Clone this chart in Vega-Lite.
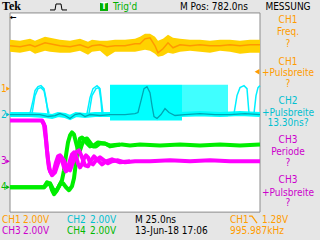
{
 "$schema": "https://vega.github.io/schema/vega-lite/v6.json",
 "width": 320, "height": 240,
 "autosize": {"type": "fit", "contains": "padding"},
 "padding": 0,
 "background": "#e6e6e6",
 "config": {"view": {"stroke": null}},
 "datasets": {
  "frame": [{"t": 657, "t2": 907, "v": -8, "v2": 8}],
  "vgrid": [{"t": 682}, {"t": 707}, {"t": 732}, {"t": 757}, {"t": 782}, {"t": 807}, {"t": 832}, {"t": 857}, {"t": 882}],
  "hgrid": [{"v": -6}, {"v": -4}, {"v": -2}, {"v": 0}, {"v": 2}, {"v": 4}, {"v": 6}],
  "vborder": [{"t": 658.5}, {"t": 905.5}],
  "hborder": [{"v": 7.88}, {"v": -7.88}],
  "dense1": [{"t": 757, "t2": 829, "v": 2.24, "v2": -0.64}],
  "dense2": [{"t": 829, "t2": 875, "v": 2.24, "v2": -0.32}],
  "ch2base": [
   {"t": 657, "v": -0.16}, {"t": 677, "v": -0.16}, {"t": 692, "v": -0.24}, {"t": 699, "v": -0.32}, {"t": 705, "v": -0.16}, {"t": 712, "v": -0.24}, {"t": 717, "v": -0.40}, {"t": 723, "v": -0.16}, {"t": 732, "v": -0.24}, {"t": 742, "v": -0.16}, {"t": 752, "v": -0.16}, {"t": 757, "v": -0.16}, {"t": 767, "v": -0.08}, {"t": 787, "v": -0.08}, {"t": 797, "v": -0.24}, {"t": 804, "v": -0.40}, {"t": 812, "v": -0.08}, {"t": 827, "v": -0.16}, {"t": 847, "v": -0.08}, {"t": 867, "v": -0.16}, {"t": 887, "v": -0.08}, {"t": 907, "v": -0.16}
  ],
  "ch2pulses": [
   {"s": "a", "t": 677, "v": -0.08}, {"s": "a", "t": 680, "v": 0.96}, {"s": "a", "t": 682, "v": 1.76}, {"s": "a", "t": 685, "v": 2.08}, {"s": "a", "t": 688, "v": 2.16}, {"s": "a", "t": 691, "v": 1.92}, {"s": "a", "t": 693, "v": 1.12}, {"s": "a", "t": 695, "v": -0.08},
   {"s": "b", "t": 679, "v": -0.08}, {"s": "b", "t": 682, "v": 1.36}, {"s": "b", "t": 685, "v": 1.92}, {"s": "b", "t": 688, "v": 2.00}, {"s": "b", "t": 691, "v": 1.76}, {"s": "b", "t": 694, "v": 0.56}, {"s": "b", "t": 696, "v": -0.08},
   {"s": "c", "t": 734, "v": -0.08}, {"s": "c", "t": 737, "v": 1.20}, {"s": "c", "t": 740, "v": 1.92}, {"s": "c", "t": 744, "v": 2.16}, {"s": "c", "t": 747, "v": 1.92}, {"s": "c", "t": 749, "v": 0.56}, {"s": "c", "t": 750, "v": -0.08},
   {"s": "d", "t": 736, "v": -0.08}, {"s": "d", "t": 739, "v": 1.36}, {"s": "d", "t": 743, "v": 1.92}, {"s": "d", "t": 746, "v": 2.00}, {"s": "d", "t": 748, "v": 0.96}, {"s": "d", "t": 749, "v": -0.08},
   {"s": "e", "t": 881, "v": -0.08}, {"s": "e", "t": 884, "v": 1.36}, {"s": "e", "t": 887, "v": 2.00}, {"s": "e", "t": 891, "v": 2.16}, {"s": "e", "t": 894, "v": 1.92}, {"s": "e", "t": 896, "v": -0.08},
   {"s": "f", "t": 901, "v": -0.08}, {"s": "f", "t": 903, "v": 1.36}, {"s": "f", "t": 905, "v": 2.00}, {"s": "f", "t": 907, "v": 2.16}
  ],
  "ch2dark": [
   {"t": 657, "v": -0.16}, {"t": 687, "v": -0.16}, {"t": 695, "v": -0.32}, {"t": 702, "v": -0.24}, {"t": 707, "v": -0.08}, {"t": 712, "v": -0.24}, {"t": 717, "v": -0.48}, {"t": 722, "v": -0.16}, {"t": 727, "v": -0.08}, {"t": 732, "v": -0.32}, {"t": 737, "v": -0.16}, {"t": 747, "v": -0.24}, {"t": 757, "v": -0.16}, {"t": 772, "v": -0.16}, {"t": 782, "v": -0.08}, {"t": 785, "v": 0}, {"t": 788, "v": 0.96}, {"t": 791, "v": 1.92}, {"t": 794, "v": 2.08}, {"t": 797, "v": 1.60}, {"t": 799, "v": 0.56}, {"t": 801, "v": -0.32}, {"t": 804, "v": -0.48}, {"t": 808, "v": -0.16}, {"t": 812, "v": 0.32}, {"t": 816, "v": 0}, {"t": 822, "v": -0.24}, {"t": 832, "v": -0.16}, {"t": 847, "v": -0.08}, {"t": 862, "v": -0.16}, {"t": 877, "v": -0.16}, {"t": 892, "v": -0.08}, {"t": 907, "v": -0.16}
  ],
  "ch1": [
   {"t": 657, "vt": 5.84, "v": 5.36, "vb": 4.88}, {"t": 667, "vt": 5.76, "v": 5.28, "vb": 4.80}, {"t": 677, "vt": 5.92, "v": 5.44, "vb": 4.96}, {"t": 682, "vt": 5.76, "v": 5.28, "vb": 4.72}, {"t": 692, "vt": 6.08, "v": 5.60, "vb": 4.96}, {"t": 697, "vt": 6.00, "v": 5.52, "vb": 4.88}, {"t": 707, "vt": 5.84, "v": 5.36, "vb": 4.80}, {"t": 717, "vt": 5.76, "v": 5.28, "vb": 4.80}, {"t": 727, "vt": 5.92, "v": 5.44, "vb": 4.96}, {"t": 735, "vt": 5.68, "v": 5.20, "vb": 4.64}, {"t": 739, "vt": 5.84, "v": 5.36, "vb": 4.88}, {"t": 747, "vt": 5.76, "v": 5.44, "vb": 4.96}, {"t": 754, "vt": 5.76, "v": 5.28, "vb": 4.48}, {"t": 762, "vt": 5.84, "v": 5.36, "vb": 4.88}, {"t": 772, "vt": 5.84, "v": 5.36, "vb": 4.88}, {"t": 782, "vt": 5.92, "v": 5.52, "vb": 4.88}, {"t": 787, "vt": 6.08, "v": 5.52, "vb": 4.96}, {"t": 792, "vt": 6.32, "v": 5.92, "vb": 5.04}, {"t": 797, "vt": 6.32, "v": 6.00, "vb": 4.96}, {"t": 802, "vt": 6.08, "v": 5.36, "vb": 4.72}, {"t": 805, "vt": 5.76, "v": 4.80, "vb": 4.48}, {"t": 810, "vt": 5.92, "v": 5.12, "vb": 4.56}, {"t": 815, "vt": 6.24, "v": 5.60, "vb": 4.80}, {"t": 820, "vt": 6.00, "v": 5.20, "vb": 4.72}, {"t": 827, "vt": 5.92, "v": 5.44, "vb": 4.88}, {"t": 837, "vt": 5.84, "v": 5.36, "vb": 4.96}, {"t": 847, "vt": 5.84, "v": 5.44, "vb": 4.88}, {"t": 857, "vt": 5.76, "v": 5.36, "vb": 4.80}, {"t": 867, "vt": 5.84, "v": 5.36, "vb": 4.96}, {"t": 877, "vt": 5.84, "v": 5.44, "vb": 4.88}, {"t": 887, "vt": 5.76, "v": 5.36, "vb": 4.72}, {"t": 897, "vt": 5.84, "v": 5.44, "vb": 4.80}, {"t": 907, "vt": 5.84, "v": 5.44, "vb": 4.80}
  ],
  "ch4": [
   {"s": "a", "t": 657, "v": -6.00}, {"s": "a", "t": 691, "v": -6.00}, {"s": "a", "t": 694, "v": -5.76}, {"s": "a", "t": 697, "v": -5.68}, {"s": "a", "t": 700, "v": -6.16}, {"s": "a", "t": 703, "v": -6.32}, {"s": "a", "t": 706, "v": -5.92}, {"s": "a", "t": 709, "v": -5.44}, {"s": "a", "t": 711, "v": -4.64}, {"s": "a", "t": 713, "v": -3.44}, {"s": "a", "t": 715, "v": -2.40}, {"s": "a", "t": 717, "v": -1.84}, {"s": "a", "t": 719, "v": -1.60}, {"s": "a", "t": 721, "v": -1.76}, {"s": "a", "t": 723, "v": -2.40}, {"s": "a", "t": 725, "v": -3.04}, {"s": "a", "t": 727, "v": -3.04}, {"s": "a", "t": 729, "v": -2.56}, {"s": "a", "t": 731, "v": -2.16}, {"s": "a", "t": 734, "v": -2.08}, {"s": "a", "t": 737, "v": -2.40}, {"s": "a", "t": 740, "v": -2.72}, {"s": "a", "t": 743, "v": -2.72}, {"s": "a", "t": 747, "v": -2.48}, {"s": "a", "t": 752, "v": -2.48}, {"s": "a", "t": 757, "v": -2.72}, {"s": "a", "t": 763, "v": -2.64}, {"s": "a", "t": 769, "v": -2.56}, {"s": "a", "t": 777, "v": -2.64}, {"s": "a", "t": 787, "v": -2.56}, {"s": "a", "t": 807, "v": -2.64}, {"s": "a", "t": 827, "v": -2.56}, {"s": "a", "t": 847, "v": -2.64}, {"s": "a", "t": 867, "v": -2.56}, {"s": "a", "t": 887, "v": -2.64}, {"s": "a", "t": 907, "v": -2.56},
   {"s": "b", "t": 657, "v": -6.00}, {"s": "b", "t": 691, "v": -6.00}, {"s": "b", "t": 694, "v": -5.60}, {"s": "b", "t": 697, "v": -5.76}, {"s": "b", "t": 699, "v": -6.24}, {"s": "b", "t": 701, "v": -6.56}, {"s": "b", "t": 704, "v": -6.24}, {"s": "b", "t": 707, "v": -5.76}, {"s": "b", "t": 710, "v": -5.68}, {"s": "b", "t": 713, "v": -6.00}, {"s": "b", "t": 716, "v": -6.24}, {"s": "b", "t": 719, "v": -5.92}, {"s": "b", "t": 721, "v": -5.28}, {"s": "b", "t": 723, "v": -4.00}, {"s": "b", "t": 725, "v": -2.72}, {"s": "b", "t": 727, "v": -2.08}, {"s": "b", "t": 729, "v": -2.00}, {"s": "b", "t": 731, "v": -2.16}, {"s": "b", "t": 734, "v": -2.48}, {"s": "b", "t": 737, "v": -2.72}, {"s": "b", "t": 741, "v": -2.64}, {"s": "b", "t": 745, "v": -2.40}, {"s": "b", "t": 751, "v": -2.48}, {"s": "b", "t": 757, "v": -2.64}, {"s": "b", "t": 767, "v": -2.56}
  ],
  "ch3": [
   {"s": "a", "t": 657, "v": -0.64}, {"s": "a", "t": 689, "v": -0.64}, {"s": "a", "t": 691, "v": -0.96}, {"s": "a", "t": 693, "v": -2.24}, {"s": "a", "t": 695, "v": -3.84}, {"s": "a", "t": 697, "v": -4.72}, {"s": "a", "t": 699, "v": -4.96}, {"s": "a", "t": 701, "v": -4.64}, {"s": "a", "t": 703, "v": -4.00}, {"s": "a", "t": 705, "v": -3.52}, {"s": "a", "t": 707, "v": -3.44}, {"s": "a", "t": 709, "v": -3.84}, {"s": "a", "t": 711, "v": -4.40}, {"s": "a", "t": 713, "v": -4.72}, {"s": "a", "t": 715, "v": -4.48}, {"s": "a", "t": 717, "v": -3.84}, {"s": "a", "t": 719, "v": -3.36}, {"s": "a", "t": 721, "v": -3.20}, {"s": "a", "t": 723, "v": -3.52}, {"s": "a", "t": 725, "v": -4.08}, {"s": "a", "t": 727, "v": -4.40}, {"s": "a", "t": 729, "v": -4.16}, {"s": "a", "t": 731, "v": -3.68}, {"s": "a", "t": 733, "v": -3.44}, {"s": "a", "t": 735, "v": -3.60}, {"s": "a", "t": 737, "v": -4.00}, {"s": "a", "t": 740, "v": -4.16}, {"s": "a", "t": 743, "v": -3.84}, {"s": "a", "t": 747, "v": -3.60}, {"s": "a", "t": 751, "v": -3.84}, {"s": "a", "t": 755, "v": -4.08}, {"s": "a", "t": 759, "v": -3.92}, {"s": "a", "t": 765, "v": -3.84}, {"s": "a", "t": 772, "v": -4.00}, {"s": "a", "t": 782, "v": -3.92}, {"s": "a", "t": 797, "v": -3.92}, {"s": "a", "t": 817, "v": -3.84}, {"s": "a", "t": 837, "v": -3.92}, {"s": "a", "t": 857, "v": -3.84}, {"s": "a", "t": 877, "v": -3.92}, {"s": "a", "t": 907, "v": -3.92},
   {"s": "b", "t": 689, "v": -0.64}, {"s": "b", "t": 692, "v": -1.12}, {"s": "b", "t": 694, "v": -3.04}, {"s": "b", "t": 696, "v": -4.48}, {"s": "b", "t": 699, "v": -5.04}, {"s": "b", "t": 702, "v": -4.80}, {"s": "b", "t": 705, "v": -4.08}, {"s": "b", "t": 708, "v": -3.52}, {"s": "b", "t": 711, "v": -3.84}, {"s": "b", "t": 714, "v": -4.48}, {"s": "b", "t": 717, "v": -4.64}, {"s": "b", "t": 720, "v": -4.00}, {"s": "b", "t": 723, "v": -3.20}, {"s": "b", "t": 726, "v": -3.04}, {"s": "b", "t": 729, "v": -3.60}, {"s": "b", "t": 732, "v": -4.24}, {"s": "b", "t": 735, "v": -4.32}, {"s": "b", "t": 738, "v": -3.84}, {"s": "b", "t": 741, "v": -3.52}, {"s": "b", "t": 745, "v": -3.84}, {"s": "b", "t": 749, "v": -4.16}, {"s": "b", "t": 753, "v": -3.92}, {"s": "b", "t": 759, "v": -3.76}, {"s": "b", "t": 767, "v": -4.00}, {"s": "b", "t": 777, "v": -3.92}
  ],
  "gnd": [{"t": 655, "v": 1.92, "k": "ch1"}, {"t": 655, "v": -0.16, "k": "ch2"}, {"t": 655, "v": -3.92, "k": "ch3"}, {"t": 655, "v": -6.0, "k": "ch4"}],
  "trig": [{"t": 904, "v": 3.28, "k": "ch1"}],
  "seps": [{"v": 4.80}, {"v": 1.60}, {"v": -1.60}, {"v": -4.80}, {"v": -8.00}],
  "textLeft": [
   {"t": 760, "v": 8.48, "text": "Trig'd", "k": "trig"},
   {"t": 827, "v": 8.48, "text": "M Pos: 782.0ns", "k": "sys"},
   {"t": 649, "v": -8.64, "text": "CH1", "k": "ch1"}, {"t": 670, "v": -8.64, "text": "2.00V", "k": "ch1"},
   {"t": 714, "v": -8.64, "text": "CH2", "k": "ch2"}, {"t": 737, "v": -8.64, "text": "2.00V", "k": "ch2"},
   {"t": 782, "v": -8.64, "text": "M 25.0ns", "k": "sys"},
   {"t": 877, "v": -8.64, "text": "CH1", "k": "ch1"}, {"t": 909, "v": -8.64, "text": "1.28V", "k": "ch1"},
   {"t": 649, "v": -9.52, "text": "CH3", "k": "ch3"}, {"t": 670, "v": -9.52, "text": "2.00V", "k": "ch3"},
   {"t": 714, "v": -9.52, "text": "CH4", "k": "ch4"}, {"t": 737, "v": -9.52, "text": "2.00V", "k": "ch4"},
   {"t": 782, "v": -9.52, "text": "13-Jun-18 17:06", "k": "sys"},
   {"t": 877, "v": -9.52, "text": "995.987kHz", "k": "ch1"},
   {"t": 648, "v": 1.92, "text": "1", "k": "ch1"}, {"t": 648, "v": -0.16, "text": "2", "k": "ch2"},
   {"t": 648, "v": -3.92, "text": "3", "k": "ch3"}, {"t": 648, "v": -6.0, "text": "4", "k": "ch4"}
  ],
  "textCenter": [
   {"t": 935, "v": 8.48, "text": "MESSUNG", "k": "sys"},
   {"t": 935, "v": 7.44, "text": "CH1", "k": "ch1"}, {"t": 935, "v": 6.48, "text": "Freq.", "k": "ch1"}, {"t": 935, "v": 5.52, "text": "?", "k": "ch1"},
   {"t": 935, "v": 4.08, "text": "CH1", "k": "ch1"}, {"t": 935, "v": 3.20, "text": "+Pulsbreite", "k": "ch1"}, {"t": 935, "v": 2.32, "text": "?", "k": "ch1"},
   {"t": 935, "v": 0.96, "text": "CH2", "k": "ch2"}, {"t": 935, "v": 0.0, "text": "+Pulsbreite", "k": "ch2"}, {"t": 935, "v": -0.88, "text": "13.30ns?", "k": "ch2"},
   {"t": 935, "v": -2.24, "text": "CH3", "k": "ch3"}, {"t": 935, "v": -3.20, "text": "Periode", "k": "ch3"}, {"t": 935, "v": -4.08, "text": "?", "k": "ch3"},
   {"t": 935, "v": -5.44, "text": "CH3", "k": "ch3"}, {"t": 935, "v": -6.48, "text": "+Pulsbreite", "k": "ch3"}, {"t": 935, "v": -7.28, "text": "?", "k": "ch3"}
  ],
  "logo": [{"t": 649, "v": 8.56, "text": "Tek"}],
  "arrow": [{"t": 657, "v": 7.56, "text": "←"}],
  "tbox": [{"t": 747, "t2": 755, "v": 8.8, "v2": 8.16}],
  "tletter": [{"t": 751, "v": 8.48, "text": "T"}],
  "icon": [{"t": 697, "v": 8.24}, {"t": 702, "v": 8.24}, {"t": 703, "v": 8.72}, {"t": 708, "v": 8.72}, {"t": 709, "v": 8.24}, {"t": 714, "v": 8.24}],
  "edge": [{"t": 896, "v": -8.32}, {"t": 899, "v": -8.32}, {"t": 904, "v": -8.88}]
 },
 "encoding": {
  "x": {"field": "t", "type": "quantitative", "scale": {"domain": [647, 967], "nice": false, "zero": false}, "axis": null},
  "y": {"field": "v", "type": "quantitative", "scale": {"domain": [-10.24, 8.96], "nice": false, "zero": false}, "axis": null}
 },
 "layer": [
  {"data": {"name": "frame"}, "mark": {"type": "rect", "fill": "#ffffff", "stroke": "#8c8c8c", "strokeWidth": 1}, "encoding": {"x2": {"field": "t2"}, "y2": {"field": "v2"}}},
  {"data": {"name": "vgrid"}, "mark": {"type": "rule", "color": "#a8a8a8", "strokeDash": [1, 4], "strokeWidth": 1}, "encoding": {"y": {"datum": -8}, "y2": {"datum": 8}}},
  {"data": {"name": "hgrid"}, "mark": {"type": "rule", "color": "#a8a8a8", "strokeDash": [1, 4], "strokeWidth": 1}, "encoding": {"x": {"datum": 657}, "x2": {"datum": 907}}},
  {"data": {"values": [{"t": 782}]}, "mark": {"type": "rule", "color": "#a8a8a8", "strokeDash": [1, 4], "strokeWidth": 5}, "encoding": {"y": {"datum": -8}, "y2": {"datum": 8}}},
  {"data": {"values": [{"v": 0}]}, "mark": {"type": "rule", "color": "#a8a8a8", "strokeDash": [1, 4], "strokeWidth": 5}, "encoding": {"x": {"datum": 657}, "x2": {"datum": 907}}},
  {"data": {"name": "vborder"}, "mark": {"type": "rule", "color": "#a0a0a0", "strokeDash": [1, 4], "strokeWidth": 3}, "encoding": {"y": {"datum": -8}, "y2": {"datum": 8}}},
  {"data": {"name": "hborder"}, "mark": {"type": "rule", "color": "#a0a0a0", "strokeDash": [1, 4], "strokeWidth": 3}, "encoding": {"x": {"datum": 657}, "x2": {"datum": 907}}},
  {"data": {"name": "dense1"}, "mark": {"type": "rect", "fill": "#00ffff"}, "encoding": {"x2": {"field": "t2"}, "y2": {"field": "v2"}}},
  {"data": {"name": "dense2"}, "mark": {"type": "rect", "fill": "#00ffff", "opacity": 0.75}, "encoding": {"x2": {"field": "t2"}, "y2": {"field": "v2"}}},
  {"data": {"name": "ch2base"}, "mark": {"type": "line", "color": "#00ffff", "strokeWidth": 5}, "encoding": {}},
  {"data": {"name": "ch2pulses"}, "mark": {"type": "line", "color": "#00f0ff", "strokeWidth": 1.5}, "encoding": {"detail": {"field": "s"}}},
  {"data": {"name": "ch2dark"}, "mark": {"type": "line", "color": "#00a6b4", "strokeWidth": 1.3}, "encoding": {}},
  {"data": {"name": "ch1"}, "mark": {"type": "area", "color": "#ffd200"}, "encoding": {"y": {"field": "vt", "type": "quantitative"}, "y2": {"field": "vb"}}},
  {"data": {"name": "ch1"}, "mark": {"type": "line", "color": "#ff9900", "strokeWidth": 1.5}, "encoding": {}},
  {"data": {"name": "ch4"}, "mark": {"type": "line", "color": "#00ee00", "strokeWidth": 4, "strokeJoin": "round"}, "encoding": {"detail": {"field": "s"}}},
  {"data": {"name": "ch3"}, "mark": {"type": "line", "color": "#ff00ff", "strokeWidth": 4, "strokeJoin": "round"}, "encoding": {"detail": {"field": "s"}}},
  {"data": {"name": "gnd"}, "mark": {"type": "point", "shape": "triangle-right", "filled": true, "size": 18, "opacity": 1},
   "encoding": {"color": {"field": "k", "type": "nominal", "scale": {"domain": ["ch1", "ch2", "ch3", "ch4", "sys", "trig"], "range": ["#ff9c00", "#00c0d0", "#cc00cc", "#00b800", "#000000", "#00b000"]}, "legend": null}}},
  {"data": {"name": "trig"}, "mark": {"type": "point", "shape": "triangle-left", "filled": true, "size": 30, "opacity": 1},
   "encoding": {"color": {"field": "k", "type": "nominal", "scale": {"domain": ["ch1", "ch2", "ch3", "ch4", "sys", "trig"], "range": ["#ff9c00", "#00c0d0", "#cc00cc", "#00b800", "#000000", "#00b000"]}, "legend": null}}},
  {"data": {"name": "seps"}, "mark": {"type": "rule", "color": "#a8a8a8", "strokeWidth": 1}, "encoding": {"x": {"datum": 911}, "x2": {"datum": 961}}},
  {"data": {"name": "textLeft"}, "mark": {"type": "text", "align": "left", "baseline": "middle", "font": "Liberation Sans Narrow, DejaVu Sans Condensed, sans-serif", "fontSize": 10},
   "encoding": {"text": {"field": "text"}, "color": {"field": "k", "type": "nominal", "scale": {"domain": ["ch1", "ch2", "ch3", "ch4", "sys", "trig"], "range": ["#ff9c00", "#00c0d0", "#cc00cc", "#00b800", "#000000", "#00b000"]}, "legend": null}}},
  {"data": {"name": "textCenter"}, "mark": {"type": "text", "align": "center", "baseline": "middle", "font": "Liberation Sans Narrow, DejaVu Sans Condensed, sans-serif", "fontSize": 10},
   "encoding": {"text": {"field": "text"}, "color": {"field": "k", "type": "nominal", "scale": {"domain": ["ch1", "ch2", "ch3", "ch4", "sys", "trig"], "range": ["#ff9c00", "#00c0d0", "#cc00cc", "#00b800", "#000000", "#00b000"]}, "legend": null}}},
  {"data": {"name": "logo"}, "mark": {"type": "text", "align": "left", "baseline": "middle", "font": "Liberation Serif", "fontWeight": "bold", "fontSize": 12, "color": "#000000"}, "encoding": {"text": {"field": "text"}}},
  {"data": {"name": "arrow"}, "mark": {"type": "text", "align": "left", "baseline": "middle", "font": "DejaVu Sans", "fontWeight": "bold", "fontSize": 8, "color": "#000000"}, "encoding": {"text": {"field": "text"}}},
  {"data": {"name": "tbox"}, "mark": {"type": "rect", "fill": "#00b000"}, "encoding": {"x2": {"field": "t2"}, "y2": {"field": "v2"}}},
  {"data": {"name": "tletter"}, "mark": {"type": "text", "align": "center", "baseline": "middle", "font": "DejaVu Sans", "fontWeight": "bold", "fontSize": 8, "color": "#ffffff"}, "encoding": {"text": {"field": "text"}}},
  {"data": {"name": "icon"}, "mark": {"type": "line", "color": "#000000", "strokeWidth": 1}, "encoding": {}},
  {"data": {"name": "edge"}, "mark": {"type": "line", "color": "#ff9c00", "strokeWidth": 1.2}, "encoding": {}}
 ]
}
